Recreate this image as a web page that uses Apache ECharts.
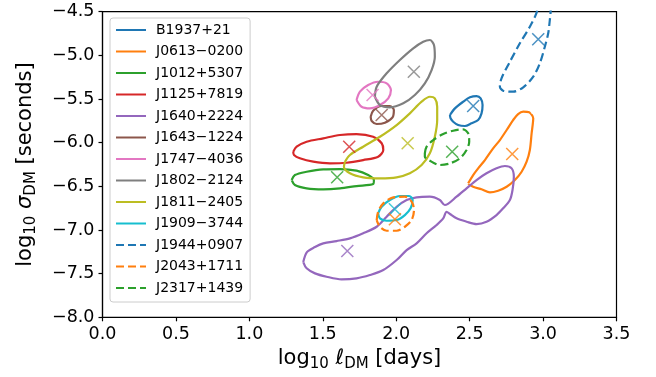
<!DOCTYPE html>
<html><head><meta charset="utf-8">
<script src="https://cdn.jsdelivr.net/npm/echarts@6/dist/echarts.min.js"></script>
<style>html,body{margin:0;padding:0;background:#fff}#c{width:656px;height:377px}</style>
</head><body><div id="c"></div>
<script>
// ---- data ----
const names = ['B1937+21','J0613\u22120200','J1012+5307','J1125+7819','J1640+2224','J1643\u22121224','J1747\u22124036','J1802\u22122124','J1811\u22122405','J1909\u22123744','J1944+0907','J2043+1711','J2317+1439'];
const colors = ['#1f77b4','#ff7f0e','#2ca02c','#d62728','#9467bd','#8c564b','#e377c2','#7f7f7f','#bcbd22','#17becf','#1f77b4','#ff7f0e','#2ca02c'];
const dashed = [false,false,false,false,false,false,false,false,false,false,true,true,true];
const xTicks = [0,0.5,1,1.5,2,2.5,3,3.5];
const yTicks = [-8,-7.5,-7,-6.5,-6,-5.5,-5,-4.5];

const cB1937 = [[2.366,-5.683],[2.400,-5.607],[2.456,-5.531],[2.502,-5.481],[2.547,-5.466],[2.575,-5.492],[2.588,-5.569],[2.581,-5.664],[2.558,-5.741],[2.513,-5.778],[2.468,-5.809],[2.422,-5.798],[2.388,-5.760],[2.370,-5.721]];
const cJ0613 = [[2.490,-6.466],[2.524,-6.371],[2.558,-6.294],[2.604,-6.199],[2.660,-6.065],[2.706,-5.970],[2.752,-5.855],[2.796,-5.741],[2.830,-5.672],[2.865,-5.645],[2.905,-5.652],[2.933,-5.721],[2.922,-5.893],[2.910,-6.084],[2.888,-6.218],[2.854,-6.333],[2.808,-6.428],[2.752,-6.505],[2.694,-6.550],[2.638,-6.569],[2.581,-6.534],[2.524,-6.505]];
const cJ1012 = [[1.288,-6.428],[1.310,-6.371],[1.390,-6.333],[1.503,-6.305],[1.617,-6.302],[1.730,-6.321],[1.809,-6.371],[1.848,-6.428],[1.843,-6.474],[1.730,-6.497],[1.617,-6.523],[1.503,-6.534],[1.390,-6.523],[1.310,-6.485]];
const cJ1125 = [[1.299,-6.104],[1.322,-6.046],[1.390,-5.989],[1.503,-5.950],[1.617,-5.912],[1.730,-5.901],[1.843,-5.932],[1.901,-6.007],[1.912,-6.084],[1.877,-6.161],[1.775,-6.199],[1.662,-6.230],[1.549,-6.237],[1.435,-6.218],[1.344,-6.179],[1.304,-6.141]];
const cJ1640 = [[1.367,-7.367],[1.392,-7.253],[1.447,-7.195],[1.503,-7.153],[1.594,-7.127],[1.685,-7.096],[1.775,-7.038],[1.867,-6.963],[1.935,-6.848],[2.003,-6.734],[2.071,-6.657],[2.139,-6.626],[2.229,-6.619],[2.297,-6.657],[2.331,-6.714],[2.411,-6.619],[2.479,-6.523],[2.547,-6.428],[2.615,-6.351],[2.683,-6.294],[2.740,-6.267],[2.786,-6.294],[2.801,-6.390],[2.792,-6.542],[2.774,-6.657],[2.728,-6.752],[2.683,-6.829],[2.615,-6.905],[2.547,-6.932],[2.479,-6.905],[2.411,-6.867],[2.366,-6.817],[2.343,-6.791],[2.320,-6.867],[2.275,-6.943],[2.207,-7.038],[2.139,-7.153],[2.071,-7.230],[2.003,-7.344],[1.912,-7.459],[1.821,-7.516],[1.730,-7.554],[1.628,-7.565],[1.526,-7.535],[1.447,-7.497],[1.390,-7.439]];
const cJ1643 = [[1.826,-5.703],[1.843,-5.634],[1.901,-5.580],[1.957,-5.580],[1.984,-5.626],[1.975,-5.710],[1.923,-5.771],[1.867,-5.786],[1.833,-5.752]];
const cJ1747 = [[1.730,-5.511],[1.753,-5.416],[1.809,-5.340],[1.877,-5.302],[1.935,-5.320],[1.964,-5.397],[1.946,-5.492],[1.889,-5.569],[1.821,-5.607],[1.764,-5.588]];
const cJ1802 = [[1.855,-5.474],[1.867,-5.359],[1.935,-5.206],[2.025,-5.053],[2.116,-4.919],[2.184,-4.844],[2.229,-4.824],[2.257,-4.881],[2.263,-5.015],[2.241,-5.168],[2.195,-5.320],[2.127,-5.454],[2.048,-5.549],[1.957,-5.595],[1.889,-5.569]];
const cJ1811 = [[1.651,-6.218],[1.685,-6.141],[1.775,-6.046],[1.889,-5.932],[2.003,-5.798],[2.093,-5.664],[2.173,-5.531],[2.229,-5.474],[2.263,-5.492],[2.279,-5.588],[2.279,-5.741],[2.263,-5.932],[2.229,-6.122],[2.173,-6.256],[2.093,-6.351],[2.003,-6.397],[1.889,-6.408],[1.775,-6.397],[1.685,-6.351],[1.644,-6.276]];
const cJ1909 = [[1.877,-6.809],[1.901,-6.734],[1.957,-6.657],[2.025,-6.611],[2.088,-6.611],[2.112,-6.657],[2.098,-6.752],[2.059,-6.829],[2.003,-6.886],[1.935,-6.894],[1.889,-6.867]];
const cJ1944 = [[2.975,-4.35],[2.956,-4.511],[2.910,-4.672],[2.842,-4.862],[2.774,-5.073],[2.717,-5.263],[2.706,-5.359],[2.728,-5.405],[2.797,-5.416],[2.865,-5.366],[2.933,-5.245],[2.978,-5.091],[3.012,-4.901],[3.035,-4.747],[3.046,-4.595],[3.051,-4.511],[3.055,-4.35]];
const cJ2043 = [[1.867,-6.886],[1.877,-6.791],[1.912,-6.695],[1.980,-6.626],[2.059,-6.619],[2.105,-6.676],[2.121,-6.772],[2.105,-6.886],[2.059,-6.963],[2.003,-7.009],[1.935,-7.009],[1.889,-6.963]];
const cJ2317 = [[2.195,-6.122],[2.207,-6.046],[2.252,-5.970],[2.320,-5.901],[2.388,-5.863],[2.456,-5.847],[2.490,-5.893],[2.497,-5.989],[2.479,-6.084],[2.434,-6.179],[2.366,-6.237],[2.297,-6.256],[2.229,-6.207],[2.195,-6.161]];
const contours = [cB1937,cJ0613,cJ1012,cJ1125,cJ1640,cJ1643,cJ1747,cJ1802,cJ1811,cJ1909,cJ1944,cJ2043,cJ2317];
const closedLoop = [true,true,true,true,true,true,true,true,true,true,false,true,true];

const markerX = [2.524,2.790,1.598,1.680,1.667,1.901,1.839,2.120,2.078,1.991,2.967,1.991,2.381];
const markerY = [-5.580,-6.130,-6.397,-6.046,-7.241,-5.683,-5.454,-5.187,-6.007,-6.763,-4.816,-6.878,-6.104];
const extraDot = [[2.935,-5.64]]; // tiny orange contour

// ---- chart ----
const FONT = 'DejaVu Sans';
const fmt = v => v.toFixed(1).replace('-', '\u2212');
const series = [];
names.forEach((n,i) => {
  const pts = contours[i].slice();
  if (closedLoop[i]) pts.push(pts[0]);
  series.push({
    name: n, type: 'line', data: pts, symbol: 'none', smooth: 0.3, clip: true,
    lineStyle: {color: colors[i], width: 2.2, type: dashed[i] ? [8, 4] : 'solid'},
    itemStyle: {color: colors[i]}, z: 2
  });
});
names.forEach((n,i) => {
  series.push({
    type: 'scatter', data: [[markerX[i], markerY[i]]],
    symbol: 'path://M0 0L10 10M10 0L0 10', symbolSize: 12,
    itemStyle: {color: 'rgba(0,0,0,0)', borderColor: colors[i], borderWidth: 1.5},
    silent: true, z: 3
  });
});
series.push({type:'scatter', data: extraDot, symbol:'emptyCircle', symbolSize: 4,
  itemStyle:{color:'#fff', borderColor:'#ff7f0e', borderWidth:1}, silent:true, z:3});

const richSub = (ff) => ({t:{fontFamily: ff, fontSize: 21, color:'#000'}, i:{fontFamily: ff, fontSize: 21, fontStyle:'italic', color:'#000'}, s:{fontFamily: ff, fontSize: 15, color:'#000', verticalAlign:'bottom', padding:[10,0,0,0]}});

const chart = echarts.init(document.getElementById('c'), null, {renderer:'canvas'});
chart.setOption({
  animation: false,
  backgroundColor: '#fff',
  grid: {left: 102.5, top: 11.7, right: 39.5, bottom: 59.7, show: true, borderColor: '#000', borderWidth: 1.2, backgroundColor: 'transparent'},
  legend: {
    data: names, orient: 'vertical', left: 110, top: 18,
    itemWidth: 30, itemHeight: 14, itemGap: 7.5,
    padding: [5, 7, 7, 5],
    backgroundColor: 'rgba(255,255,255,0.8)', borderColor: '#cccccc', borderWidth: 1, borderRadius: 3,
    itemStyle: {opacity: 0},
    textStyle: {fontFamily: FONT, fontSize: 14, color: '#000', padding: [0,0,0,5]}
  },
  xAxis: {
    type: 'value', min: 0, max: 3.5, interval: 0.5,
    name: '{t|log}{s|10} {i|\u2113}{s|DM} {t|[days]}', nameLocation: 'middle', nameGap: 28,
    nameTextStyle: {fontFamily: FONT, fontSize: 21, color: '#000', rich: richSub(FONT)},
    axisLine: {show: true, lineStyle: {color: '#000', width: 1.2}},
    axisTick: {show: true, inside: false, length: 4, lineStyle: {color: '#000', width: 1.2}},
    axisLabel: {fontFamily: FONT, fontSize: 17.5, color: '#000', margin: 8, formatter: fmt},
    splitLine: {show: false}
  },
  yAxis: {
    type: 'value', min: -8, max: -4.5, interval: 0.5,
    name: '{t|log}{s|10} {i|\u03c3}{s|DM} {t|[seconds]}', nameLocation: 'middle', nameGap: 64, nameRotate: 90,
    nameTextStyle: {fontFamily: FONT, fontSize: 21, color: '#000', rich: richSub(FONT)},
    axisLine: {show: true, lineStyle: {color: '#000', width: 1.2}},
    axisTick: {show: true, inside: false, length: 4, lineStyle: {color: '#000', width: 1.2}},
    axisLabel: {fontFamily: FONT, fontSize: 17.5, color: '#000', margin: 8, formatter: fmt},
    splitLine: {show: false}
  },
  series: series
});
</script></body></html>
